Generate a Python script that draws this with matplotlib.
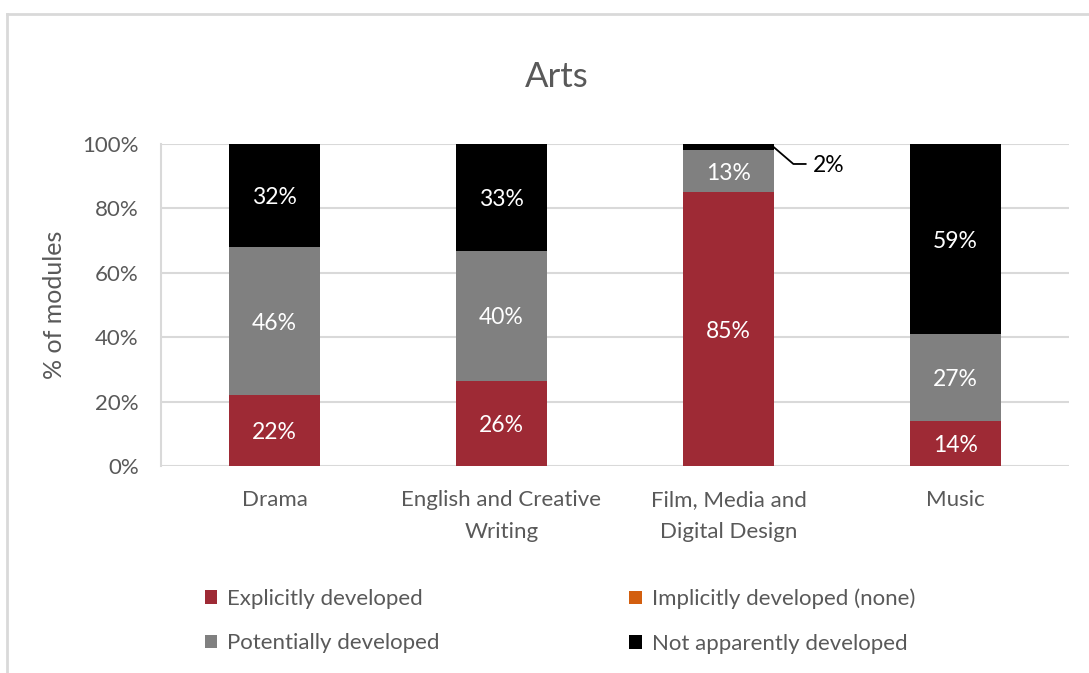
import numpy as np
import matplotlib.pyplot as plt
from matplotlib.lines import Line2D
from matplotlib.patches import Patch

plt.rcParams['font.family'] = ['Lato', 'DejaVu Sans']

subjects = ['Drama', 'English and Creative\nWriting', 'Film, Media and\nDigital Design', 'Music']
explicit = [22, 26.5, 85, 14]
implicit = [0, 0, 0, 0]
potential = [46, 40.2, 13, 27]
not_dev = [32, 33.3, 2, 59]

series = [
    ('Explicitly developed', explicit, '#9E2A35'),
    ('Implicitly developed (none)', implicit, '#D35F0F'),
    ('Potentially developed', potential, '#808080'),
    ('Not apparently developed', not_dev, '#000000'),
]

txt = '#595959'
grid = '#D9D9D9'

fig = plt.figure(figsize=(10.89, 6.73), dpi=100)
ax = fig.add_axes([0.1478, 0.3076, 0.8338, 0.4784])

x = np.arange(len(subjects))
width = 0.4
bottom = np.zeros(len(subjects))
for name, vals, col in series:
    vals = np.array(vals, dtype=float)
    ax.bar(x, vals, width, bottom=bottom, color=col, zorder=3)
    for i, v in enumerate(vals):
        if v >= 5:
            ax.text(x[i], bottom[i] + v / 2, f'{v:.0f}%', ha='center', va='center_baseline',
                    color='white', fontsize=16.5, zorder=4)
    bottom += vals

# small black segment on the film bar gets a leader line instead
i = 2
y0 = explicit[i] + potential[i] + not_dev[i] / 2
ax.plot([x[i] + width / 2, x[i] + 0.286, x[i] + 0.34], [y0, 93.8, 93.8],
        color='black', lw=1.3, zorder=4, clip_on=False)
ax.text(x[i] + 0.37, 93.8, f'{not_dev[i]:.0f}%', ha='left', va='center_baseline',
        color='black', fontsize=16.5)

ax.set_xlim(-0.5, len(subjects) - 0.5)
ax.set_ylim(0, 100)
ax.set_yticks(np.arange(0, 101, 20))
ax.set_yticklabels([f'{t}%' for t in range(0, 101, 20)])
ax.yaxis.grid(True, color=grid, lw=1.5, zorder=0)
ax.set_xticks(x)
ax.set_xticklabels(subjects, linespacing=1.75)
ax.tick_params(axis='both', length=0, colors=txt, labelsize=16)
ax.tick_params(axis='x', pad=17)
ax.tick_params(axis='y', pad=16)
for s in ['top', 'right', 'bottom']:
    ax.spines[s].set_visible(False)
ax.spines['left'].set_color(grid)
ax.spines['left'].set_linewidth(1.5)
ax.set_ylabel('% of modules', color=txt, fontsize=18, labelpad=12)

fig.text(0.511, 0.885, 'Arts', ha='center', va='center', color=txt, fontsize=25)

# legend in two fixed columns
handles = {n: Patch(facecolor=c, label=n) for n, _, c in series}
columns = [(0.188, ['Explicitly developed', 'Potentially developed']),
           (0.578, ['Implicitly developed (none)', 'Not apparently developed'])]
for xpos, names in columns:
    fig.legend([handles[n] for n in names], names, loc='upper left',
               bbox_to_anchor=(xpos, 0.125), frameon=False, borderpad=0,
               borderaxespad=0, fontsize=16, labelcolor=txt, handlelength=0.55,
               handleheight=0.55, handletextpad=0.45, labelspacing=1.1)

# chart frame
fig.add_artist(Line2D([0.0066, 1.0], [0.979, 0.979], color=grid, lw=2, transform=fig.transFigure))
fig.add_artist(Line2D([0.0066, 0.0066], [0.0, 0.979], color=grid, lw=2, transform=fig.transFigure))

fig.savefig('out.png', dpi=100)
